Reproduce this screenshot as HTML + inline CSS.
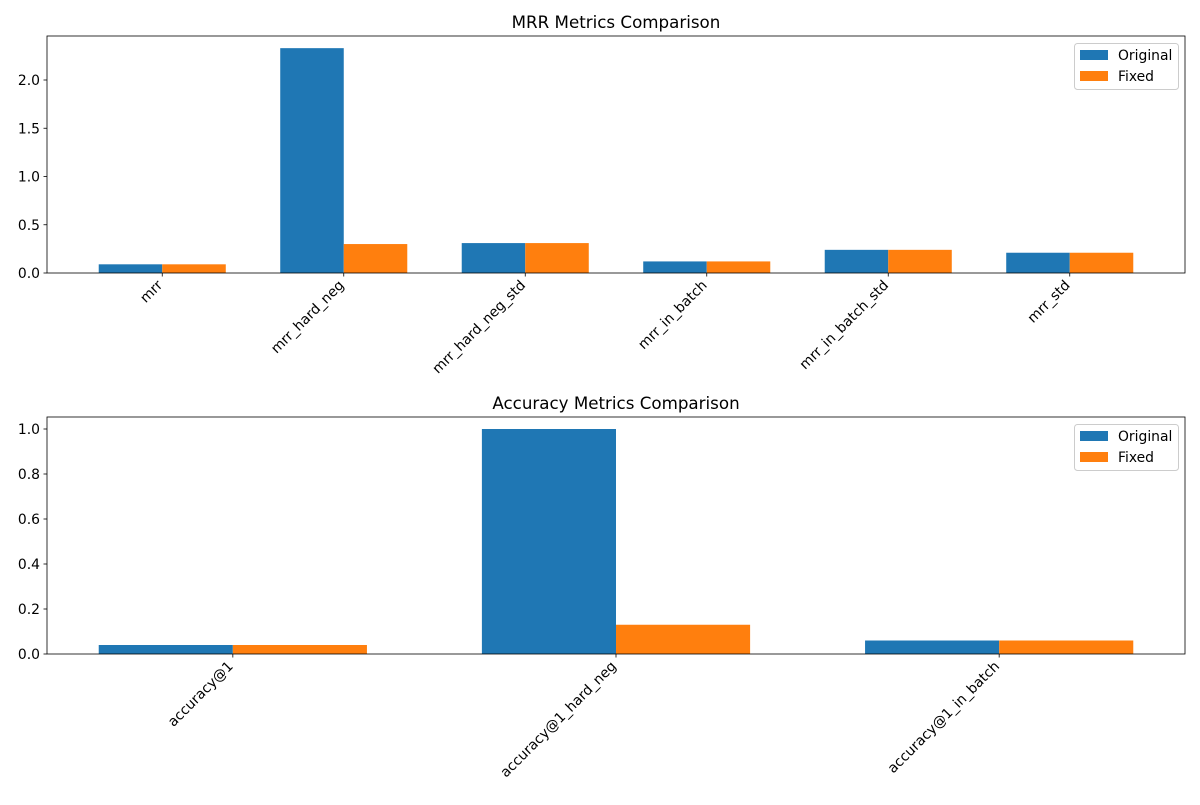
<!DOCTYPE html>
<html><head><meta charset="utf-8"><style>
body{margin:0;background:#fff;}
svg text{font-family:"DejaVu Sans","Liberation Sans",sans-serif;}
</style></head><body>
<svg id="svg" width="1200" height="800" xmlns="http://www.w3.org/2000/svg"></svg>
<script>
const mrrCategories = ["mrr","mrr_hard_neg","mrr_hard_neg_std","mrr_in_batch","mrr_in_batch_std","mrr_std"];
const mrrOriginal = [0.09, 2.33, 0.31, 0.12, 0.24, 0.21];
const mrrFixed = [0.09, 0.30, 0.31, 0.12, 0.24, 0.21];
const mrrTicks = [0.0, 0.5, 1.0, 1.5, 2.0];
const accCategories = ["accuracy@1","accuracy@1_hard_neg","accuracy@1_in_batch"];
const accOriginal = [0.04, 1.0, 0.06];
const accFixed = [0.04, 0.13, 0.06];
const accTicks = [0.0, 0.2, 0.4, 0.6, 0.8, 1.0];

const NS="http://www.w3.org/2000/svg";
const svg=document.getElementById('svg');
function mk(tag,attrs,parent){const e=document.createElementNS(NS,tag);for(const k in attrs)e.setAttribute(k,attrs[k]);(parent||svg).appendChild(e);return e;}

function panel(name,title,cats,orig,fixed,ticks,top,bottom,yMax){
  const L=47,R=1185;
  const g=mk('g',{});
  
  
  const n=cats.length, w=0.35;
  const lo=-w-(n-1+2*w)*0.05, hi=n-1+w+(n-1+2*w)*0.05;
  const x=v=>L+(v-lo)/(hi-lo)*(R-L);
  const y=v=>bottom-v/yMax*(bottom-top);
  cats.forEach((c,i)=>{
    const b1=mk('rect',{x:x(i-w),y:y(orig[i]),width:x(i)-x(i-w),height:bottom-y(orig[i]),fill:'#1f77b4'},g);
    
    
    const b2=mk('rect',{x:x(i),y:y(fixed[i]),width:x(i+w)-x(i),height:bottom-y(fixed[i]),fill:'#ff7f0e'},g);
    
    
    mk('line',{x1:x(i),x2:x(i),y1:bottom,y2:bottom+3.5,stroke:'#000','stroke-width':0.8},g);
    const t=mk('text',{x:0,y:0,'font-size':13.9,'text-anchor':'end',transform:`translate(${x(i)+1},${bottom+13}) rotate(-45)`},g);
    t.textContent=c;
    
    
  });
  ticks.forEach(v=>{
    mk('line',{x1:L-3.5,x2:L,y1:y(v),y2:y(v),stroke:'#000','stroke-width':0.8},g);
    const t=mk('text',{x:L-7,y:y(v)+5,'font-size':13.9,'text-anchor':'end'},g);
    t.textContent=v.toFixed(1);
    
    
  });
  const ax=mk('rect',{x:L,y:top,width:R-L,height:bottom-top,fill:'none',stroke:'#000','stroke-width':0.8},g);
  
  
  const tt=mk('text',{x:(L+R)/2,y:top-8,'font-size':16.7,'text-anchor':'middle'},g);
  tt.textContent=title;
  
  
  const lg=mk('g',{},g);
  
  
  mk('rect',{x:1074.5,y:top+7.5,width:104,height:46,rx:3,fill:'#fff',stroke:'#ccc','stroke-width':1},lg);
  [['Original','#1f77b4'],['Fixed','#ff7f0e']].forEach((e,k)=>{
    const ent=mk('g',{},lg);
    
    
    mk('rect',{x:1080,y:top+14+k*21,width:28,height:10,fill:e[1]},ent);
    const t=mk('text',{x:1118,y:top+24+k*21,'font-size':13.9},ent);
    t.textContent=e[0];
  });
}
panel('mrr-chart','MRR Metrics Comparison',mrrCategories,mrrOriginal,mrrFixed,mrrTicks,36,273,2.0/((273-80)/237));
panel('accuracy-chart','Accuracy Metrics Comparison',accCategories,accOriginal,accFixed,accTicks,417,654,1.0/((654-429)/237));
</script>
</body></html>
